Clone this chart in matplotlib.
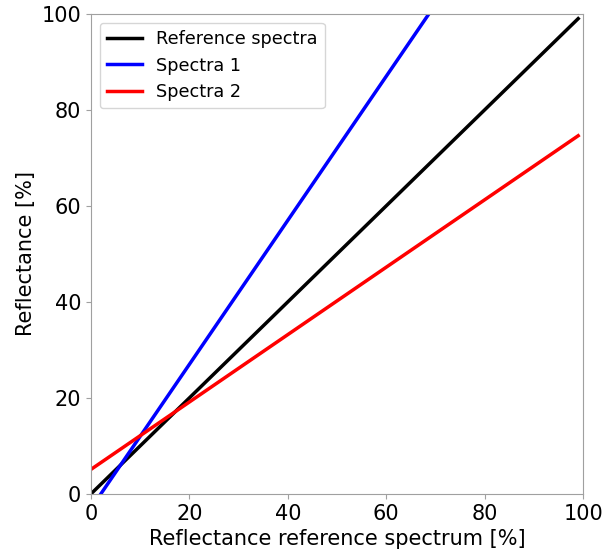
import matplotlib
matplotlib.use('Agg')
import matplotlib.pyplot as plt
import numpy as np

# line endpoints
x = [0, 99]
ref = [0, 99]
spectra1 = [-3, 145.5]
spectra2 = [5.1, 74.6]

fig, ax = plt.subplots(figsize=(6.03, 5.53), dpi=100)
ax.plot(x, ref, color='black', lw=2.5, label='Reference spectra')
ax.plot(x, spectra1, color='blue', lw=2.5, label='Spectra 1')
ax.plot(x, spectra2, color='red', lw=2.5, label='Spectra 2')

ax.set_xlim(0, 100)
ax.set_ylim(0, 100)
ax.set_xlabel('Reflectance reference spectrum [%]', fontsize=15)
ax.set_ylabel('Reflectance [%]', fontsize=15)
ax.tick_params(labelsize=15, color='#a0a0a0')
for s in ax.spines.values():
    s.set_color('#a0a0a0')
ax.legend(loc='upper left', fontsize=12.7)

fig.subplots_adjust(left=0.151, right=0.967, top=0.975, bottom=0.107)
fig.savefig('out.png', dpi=100)
